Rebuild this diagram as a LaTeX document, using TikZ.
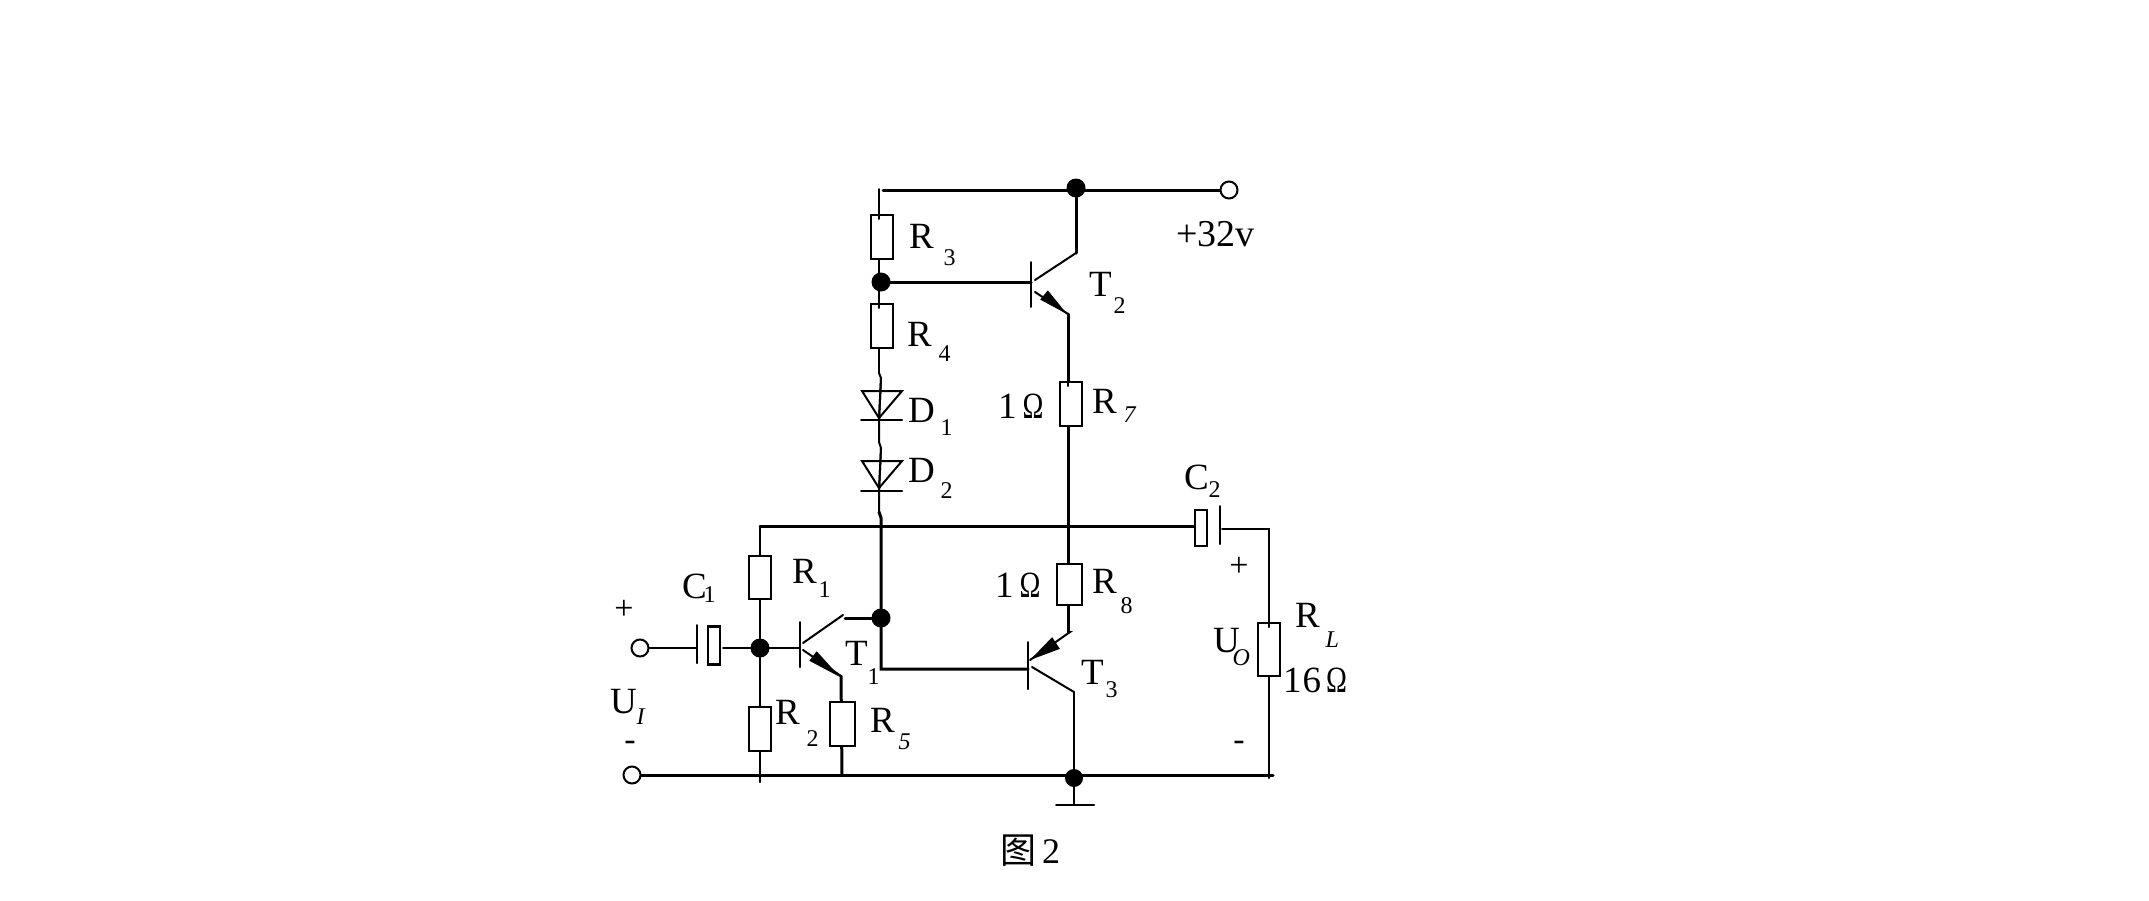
\documentclass[tikz,border=0pt]{standalone}
\usepackage{fontspec}
\setmainfont{Liberation Serif}
\newfontfamily\cjkfont{Noto Sans CJK SC}
\usetikzlibrary{calc}
\newcommand{\mainsize}{\fontsize{37}{37}\selectfont}
\newcommand{\subsize}{\fontsize{24}{24}\selectfont}
\newcommand{\Lb}[4]{#1\kern #3pt\raisebox{-#4pt}{\subsize #2}}
\newcommand{\Om}{\scalebox{0.76}[1]{Ω}}
\tikzset{
  x=1pt,y=-1pt,
  thinw/.style={line width=2pt,line cap=round,line join=miter},
  thickw/.style={line width=3pt,line cap=round,line join=miter},
  resv/.style={draw,line width=2.6pt,fill=white,inner sep=0pt,outer sep=0pt,minimum width=22pt,minimum height=44pt},
  capbody/.style={draw,line width=2.6pt,fill=white,inner sep=0pt,outer sep=0pt,minimum width=12pt,minimum height=38pt},
  dotj/.style={circle,fill=black,inner sep=0pt,minimum size=19pt},
  term/.style={circle,draw,line width=2pt,fill=white,inner sep=0pt,minimum size=17pt},
  lbl/.style={anchor=base west,inner sep=0pt,outer sep=0pt,font=\mainsize},
  sign/.style={inner sep=0pt,outer sep=0pt,font=\fontsize{34}{34}\selectfont},
}
\newcommand{\blob}[3]{\fill ($(#1)!#3!90:(#2)$) -- (#2) -- ($(#1)!#3!-90:(#2)$) -- cycle;}
\begin{document}
\begin{tikzpicture}
\path[fill=white] (0,0) rectangle (2149,900);
\useasboundingbox (0,0) rectangle (2149,900);

% junctions and terminals
\node[dotj] (jtop) at (1076,188) {};
\node[dotj] (jb2) at (881,282) {};
\node[dotj] (jb1) at (760,648) {};
\node[dotj] (jc1) at (881,618) {};
\node[dotj,minimum size=18pt] (jgnd) at (1074,778) {};
\node[term] (vcc) at (1229,190) {};
\node[term] (inp) at (640,648) {};
\node[term] (inm) at (632,775) {};

% free points
\coordinate (topl) at (883,190);
\coordinate (r3top) at (879,189);
\coordinate (d1a) at (879,373);
\coordinate (d1b) at (881,378);
\coordinate (d1c) at (879,420);
\coordinate (d2a) at (879,442);
\coordinate (d2b) at (881,448);
\coordinate (d2c) at (879,491);
\coordinate (d3a) at (879,512);
\coordinate (d3b) at (881,518);
\coordinate (busl) at (760,526);
\coordinate (busx) at (1068,526);
\coordinate (t3bj) at (881,669);
\coordinate (t2c) at (1076,253);
\coordinate (t2cb) at (1035,280);
\coordinate (t2eb) at (1035,292);
\coordinate (t2e) at (1068,314);
\coordinate (t2b) at (1031,282);
\coordinate (t2b1) at (1031,262);
\coordinate (t2b2) at (1031,307);
\coordinate (t3b) at (1028,669);
\coordinate (t3b1) at (1028,642);
\coordinate (t3b2) at (1028,689);
\coordinate (t3e) at (1070,632);
\coordinate (t3eb) at (1030,660);
\coordinate (t3cb) at (1032,667);
\coordinate (t3c) at (1074,692);
\coordinate (t1b) at (800,648);
\coordinate (t1b1) at (800,622);
\coordinate (t1b2) at (800,667);
\coordinate (t1cb) at (803,643);
\coordinate (t1c) at (843,615);
\coordinate (t1c2) at (845,618);
\coordinate (t1eb) at (803,650);
\coordinate (t1e) at (841,676);
\coordinate (gbar1) at (1056,805);
\coordinate (gbar2) at (1094,805);
\coordinate (gmid) at (1074,805);
\coordinate (botr) at (1273,775);
\coordinate (rltop) at (1269,529);
\coordinate (rlbot) at (1269,778);
\coordinate (r2end) at (760,782);
\coordinate (r5end) at (842,775);
\coordinate (c2w) at (1222,529);
\coordinate (c1w) at (723,648);
\coordinate (c1p) at (697,648);
\coordinate (c1p1) at (697,625);
\coordinate (c1p2) at (697,663);
\coordinate (c2p1) at (1220,506);
\coordinate (c2p2) at (1220,544);
\coordinate (tip2) at (1067,314);
\coordinate (back2) at (1044,295);
\coordinate (tip1) at (840,677);
\coordinate (back1) at (813,656);
\coordinate (tip3) at (1030,660);
\coordinate (back3) at (1056,643);

% wires
\draw[thickw] (topl) -- (jtop.center |- topl) -- (vcc);
\draw[thickw] (jtop) -- (t2c);
\draw[thinw] (t2c) -- (t2cb);
\draw[thinw] (r3top) -- (d1a);
\draw[thickw] (jb2) -- (t2b);
\draw[thinw] (t2b1) -- (t2b2);
\draw[thinw] (t2eb) -- (t2e);
\draw[thickw] (t2e) -- (busx);
\draw[thickw] (busx) -- (t3e -| busx);
\draw[thinw] (t3e -| busx) -- (t3e) -- (t3eb);
\draw[thickw] (busl) -- (1195,526);
\draw[thinw] (busl) -- (jb1) -- (r2end);
\draw[thinw] (d1a) -- (d1b) -- (d1c) -- (d2a) -- (d2b) -- (d2c) -- (d3a);
\draw[thickw] (d3a) -- (d3b) -- (t3bj) -- (t3b);
\draw[thinw] (t3b1) -- (t3b2);
\draw[thinw] (t3cb) -- (t3c);
\draw[thinw] (t3c) -- (jgnd) -- (gmid);
\draw[thinw] (gbar1) -- (gbar2);
\draw[thickw] (inm) -- (botr);
\draw[thinw] (c2w) -- (rltop) -- (rlbot);
\draw[thinw] (inp) -- (c1p);
\draw[thinw] (c1p1) -- (c1p2);
\draw[thinw] (c1w) -- (jb1) -- (t1b);
\draw[thinw] (t1b1) -- (t1b2);
\draw[thinw] (t1cb) -- (t1c);
\draw[thickw] (t1c2) -- (jc1);
\draw[thinw] (t1eb) -- (t1e);
\draw[thickw] (t1e) -- (r5end);
\draw[thinw] (c2p1) -- (c2p2);

% arrow heads
\blob{back2}{tip2}{6pt}
\blob{back1}{tip1}{6pt}
\blob{back3}{tip3}{7pt}

% diodes
\draw[line width=2pt] (862,391) -- (902,391) -- (879,418) -- cycle;
\draw[thinw] (861,420) -- (902,420);
\draw[line width=2pt] (862,461) -- (902,461) -- (879,488) -- cycle;
\draw[thinw] (861,491) -- (902,491);
\draw[thinw] (d1b) -- (d1c);
\draw[thinw] (d2b) -- (d2c);

% resistors and capacitors
\node[resv] (R3) at (882,237) {};
\node[resv] (R4) at (882,326) {};
\node[resv] (R7) at (1071,404) {};
\node[resv,minimum width=25pt,minimum height=41pt] (R8) at (1069.5,584.5) {};
\node[resv,minimum height=43pt] (R1) at (760,577.5) {};
\node[resv] (R2) at (760,729) {};
\node[resv,minimum width=25pt] (R5) at (842.5,724) {};
\node[resv,minimum height=53pt] (RL) at (1269,649.5) {};
\node[capbody] (C1) at (714,645.5) {};
\node[capbody,minimum height=36pt] (C2) at (1201,528) {};
% lead stubs poking into the boxes
\draw[thinw] (879,215) -- (879,219);
\draw[thinw] (879,304) -- (879,308);
\draw[thinw] (1068,382) -- (1068,386);
\draw[thinw] (1269,623) -- (1269,627);

% labels
\node[lbl] (tR3) at (909,248) {\Lb{R}{3}{10}{17}};
\node[lbl] (tR4) at (907,346) {\Lb{R}{4}{7}{15}};
\node[lbl] (tD1) at (908,422) {\Lb{D}{1}{6}{13}};
\node[lbl] (tD2) at (908,482) {\Lb{D}{2}{6}{16}};
\node[lbl] (tO7) at (998,418) {1\kern 6pt\Om};
\node[lbl] (tR7) at (1092,413) {\Lb{R}{\textit{7}}{7}{9}};
\node[lbl] (tT2) at (1089,296) {\Lb{T}{2}{2}{17}};
\node[lbl,font=\fontsize{38}{38}\selectfont] (tV) at (1176,246) {+32v};
\node[lbl] (tR1) at (792,583) {\Lb{R}{1}{2}{14}};
\node[lbl] (tC1) at (682,598) {\Lb{C}{1}{-3}{4}};
\node[sign] (pI) at (624,610) {+};
\node[sign] (mI) at (630,746) {-};
\node[lbl] (tUI) at (610,713) {\Lb{U}{\textit{I}}{0}{11}};
\node[lbl] (tR2) at (775,724) {\Lb{R}{2}{7}{22}};
\node[lbl] (tT1) at (845,665) {\Lb{T}{1}{0}{19}};
\node[lbl] (tR5) at (870,732) {\Lb{R}{\textit{5}}{4}{17}};
\node[lbl] (tO8) at (995,597) {1\kern 6pt\Om};
\node[lbl] (tR8) at (1092,593) {\Lb{R}{8}{4}{20}};
\node[lbl] (tT3) at (1081,684) {\Lb{T}{3}{2}{13}};
\node[lbl] (tC2) at (1184,489) {\Lb{C}{2}{0}{8}};
\node[sign] (pO) at (1239,567) {+};
\node[sign] (mO) at (1239,746) {-};
\node[lbl] (tUO) at (1213,652) {\Lb{U}{\textit{O}}{-7}{13}};
\node[lbl] (tRL) at (1295,627) {\Lb{R}{\textit{L}}{6}{20}};
\node[lbl] (tRv) at (1283,692) {1\kern 1pt 6\kern 5pt\Om};
\node[lbl,font=\fontsize{36}{36}\selectfont] (tfig) at (1000,863) {{\cjkfont 图}\kern 6pt 2};
\end{tikzpicture}
\end{document}
